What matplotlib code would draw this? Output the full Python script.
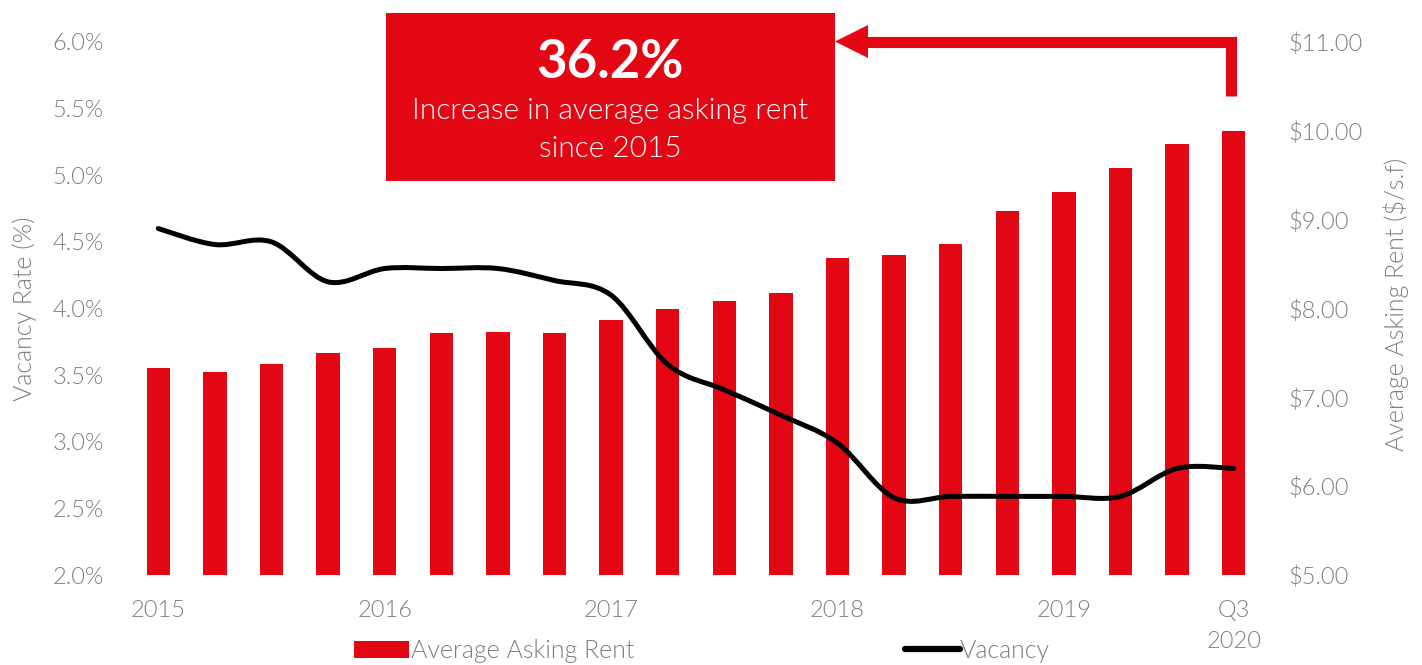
import matplotlib
matplotlib.use('Agg')
import matplotlib.pyplot as plt
import numpy as np
from matplotlib.path import Path
from matplotlib.patches import PathPatch, Rectangle, Polygon, Patch
from matplotlib.lines import Line2D

# ---- data ----
tick_labels = ["2015", "", "", "", "2016", "", "", "", "2017", "", "", "",
               "2018", "", "", "", "2019", "", "", "Q3\n2020"]
rent = [7.33, 7.28, 7.38, 7.50, 7.56, 7.72, 7.73, 7.72, 7.87, 7.99,
        8.08, 8.18, 8.57, 8.60, 8.73, 9.10, 9.31, 9.58, 9.85, 10.00]
vacancy = [4.60, 4.48, 4.50, 4.20, 4.30, 4.30, 4.30, 4.21, 4.10, 3.58,
           3.39, 3.20, 2.99, 2.58, 2.59, 2.59, 2.59, 2.59, 2.80, 2.80]
vac_ticks = [2.0, 2.5, 3.0, 3.5, 4.0, 4.5, 5.0, 5.5, 6.0]
rent_ticks = [5, 6, 7, 8, 9, 10, 11]
callout_value = "36.2%"
callout_text = "Increase in average asking rent\nsince 2015"

RED = '#E30613'
GRAY = '#7f7f7f'
LW = 300
TS = 17
plt.rcParams['font.family'] = ['Lato', 'DejaVu Sans']

W, H = 1422, 665
fig = plt.figure(figsize=(W / 100, H / 100), dpi=100)
fx = lambda px: px / W
fy = lambda py: 1 - py / H

ax = fig.add_axes([fx(130), fy(575), (1262 - 130) / W, (575 - 42) / H])
x = np.arange(len(rent))
ax.bar(x, rent, width=0.41, color=RED, zorder=2)
ax.set_xlim(-0.5, len(rent) - 0.5)
ax.set_ylim(5, 11)
ax.set_xticks(x)
ax.set_xticklabels(tick_labels, linespacing=1.6)
ax.tick_params(axis='x', length=0, pad=18, labelsize=TS, labelcolor=GRAY)
for lab in ax.get_xticklabels():
    lab.set_fontweight(LW)
for s in ax.spines.values():
    s.set_visible(False)

ax2 = ax.twinx()
ax2.set_ylim(2, 6)
ax2.set_yticks(vac_ticks)
ax2.set_yticklabels([f"{v:.1f}%" for v in vac_ticks])
for s in ax2.spines.values():
    s.set_visible(False)

# rent ticks on the right, vacancy ticks on the left
ax.yaxis.tick_right()
ax.set_yticks(rent_ticks)
ax.set_yticklabels([f"${v:.2f}" for v in rent_ticks])
ax.tick_params(axis='y', length=0, pad=19, labelsize=TS, labelcolor=GRAY)
ax2.yaxis.tick_left()
ax2.tick_params(axis='y', length=0, pad=19, labelsize=TS, labelcolor=GRAY)
for lab in ax.get_yticklabels() + ax2.get_yticklabels():
    lab.set_fontweight(LW)


def smooth_path(xs, ys):
    xs = np.asarray(xs, float)
    ys = np.asarray(ys, float)
    n = len(xs)
    verts = [(xs[0], ys[0])]
    codes = [Path.MOVETO]
    for i in range(n - 1):
        p0 = i - 1 if i > 0 else i
        p3 = i + 2 if i + 2 < n else i + 1
        c1 = (xs[i] + (xs[i + 1] - xs[p0]) / 6, ys[i] + (ys[i + 1] - ys[p0]) / 6)
        c2 = (xs[i + 1] - (xs[p3] - xs[i]) / 6, ys[i + 1] - (ys[p3] - ys[i]) / 6)
        verts += [c1, c2, (xs[i + 1], ys[i + 1])]
        codes += [Path.CURVE4] * 3
    return Path(verts, codes)


ax2.add_patch(PathPatch(smooth_path(x, vacancy), fill=False, edgecolor='black',
                        lw=3.6, capstyle='round', joinstyle='round', zorder=3))

# axis titles
fig.text(fx(25), fy(309), "Vacancy Rate (%)", rotation=90, ha='center', va='center',
         fontsize=18, color=GRAY, fontweight=LW)
fig.text(fx(1396), fy(304), "Average Asking Rent ($/s.f)", rotation=90, ha='center',
         va='center', fontsize=18, color=GRAY, fontweight=LW)

# legends
fig.legend(handles=[Patch(facecolor=RED, edgecolor='none')], labels=["Average Asking Rent"],
           loc='center left', bbox_to_anchor=(fx(341), fy(651)), frameon=False,
           handlelength=2.2, handleheight=0.65, handletextpad=0.1,
           borderpad=0, labelcolor=GRAY, prop={'weight': LW, 'size': 18})
fig.legend(handles=[Line2D([], [], color='black', lw=4.5, solid_capstyle='round')],
           labels=["Vacancy"], loc='center left', bbox_to_anchor=(fx(892), fy(651)),
           frameon=False, handlelength=2.2, handletextpad=0.0,
           borderpad=0, labelcolor=GRAY, prop={'weight': LW, 'size': 18})

# callout box
fig.add_artist(Rectangle((fx(386), fy(181)), (835 - 386) / W, (181 - 13) / H,
                         transform=fig.transFigure, facecolor=RED, edgecolor='none'))
fig.text(fx(610), fy(62), callout_value, ha='center', va='center', fontsize=38,
         color='white', fontweight='bold')
fig.text(fx(610), fy(130), callout_text, ha='center', va='center', fontsize=21.5,
         color='white', fontweight=LW, linespacing=1.55)

# elbow arrow
fig.add_artist(Line2D([fx(1230.5), fx(1230.5), fx(866)], [fy(96), fy(41.5), fy(41.5)],
                      transform=fig.transFigure, color=RED, lw=8,
                      solid_joinstyle='miter', solid_capstyle='butt'))
fig.add_artist(Polygon([(fx(835), fy(41.5)), (fx(868), fy(25)), (fx(868), fy(58))],
                       closed=True, transform=fig.transFigure, facecolor=RED,
                       edgecolor='none'))

fig.savefig('out.png', dpi=100)
